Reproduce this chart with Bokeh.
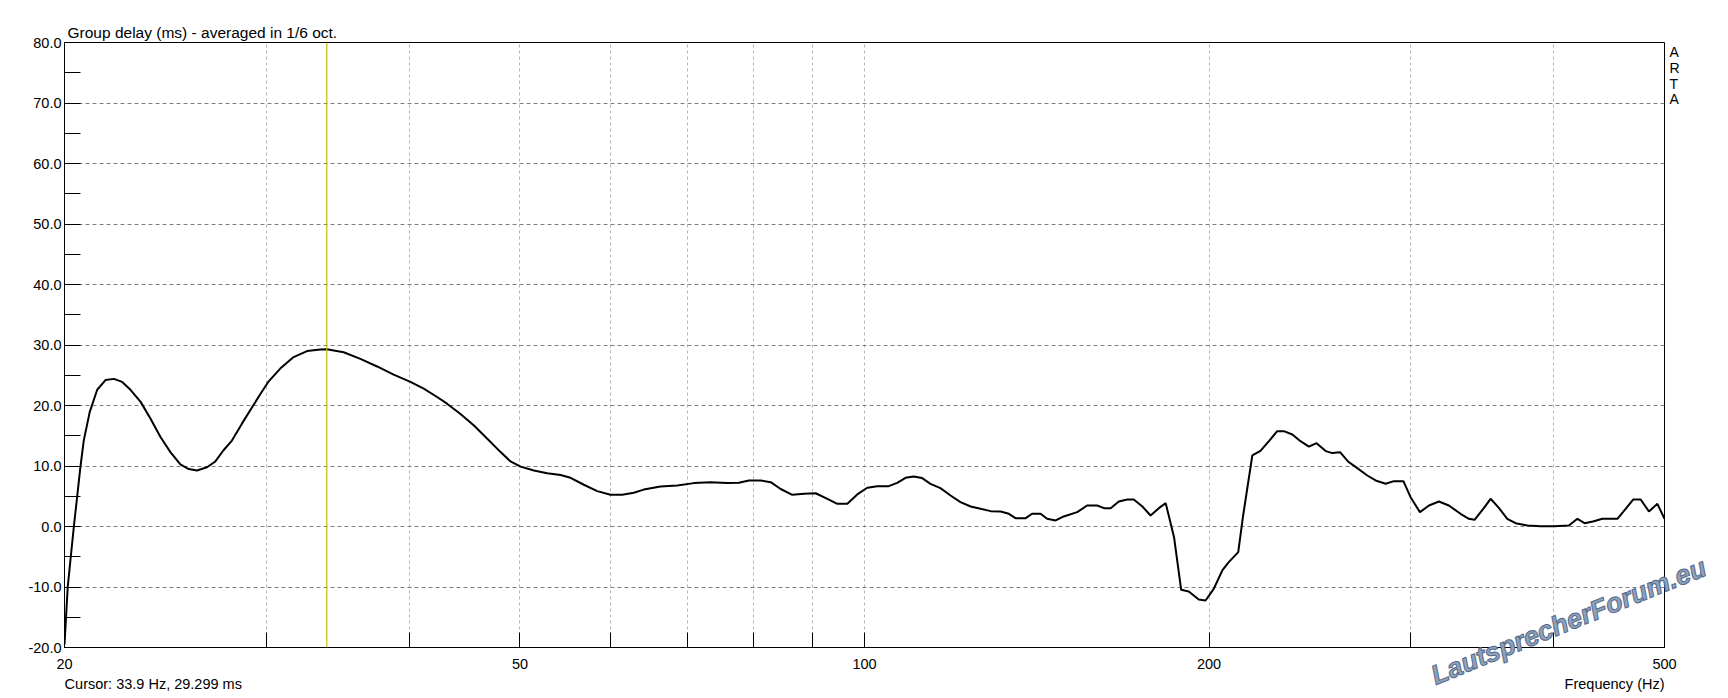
from bokeh.plotting import figure
from bokeh.models import (Range1d, FixedTicker, NumeralTickFormatter, Span,
                          ColumnDataSource, LinearAxis, LogAxis)
from bokeh.core.properties import value
from bokeh.embed import file_html
from bokeh.resources import INLINE

# ---- data ----
freq_hz = [20.0, 20.13, 20.38, 20.65, 20.79, 21.04, 21.36, 21.72, 22.09, 22.46,
           22.84, 23.31, 23.78, 24.26, 24.75, 25.25, 25.68, 26.11, 26.64, 27.09,
           27.54, 28.01, 28.58, 29.17, 29.66, 30.16, 30.87, 31.71, 32.58, 33.46,
           33.9, 35.07, 36.27, 37.51, 38.78, 40.11, 41.2, 42.32, 43.18, 44.36,
           45.58, 46.82, 48.09, 49.06, 50.06, 51.42, 52.82, 54.26, 55.36, 56.86,
           58.41, 59.99, 61.42, 62.87, 64.14, 66.34, 68.61, 70.94, 73.36, 75.88,
           77.67, 79.25, 81.15, 82.8, 84.48, 86.49, 88.53, 90.64, 92.8, 94.68,
           96.6, 98.56, 100.56,
           102.6, 105.0, 106.8, 108.6, 110.4, 112.3, 114.2, 116.5, 118.9, 121.3,
           123.8, 126.3, 128.9, 131.5, 133.7, 135.5, 138.3, 140.1, 142.5, 144.4,
           146.9, 149.3, 153.4, 156.5, 159.7, 161.9, 164.1, 166.8, 169.7, 171.9,
           174.9, 177.8, 180.8, 183.3, 186.4, 189.1, 192.0, 195.9, 198.6, 201.9,
           205.4, 208.1, 212.1, 214.2, 218.2, 221.8, 225.6, 229.4,
           232.5, 236.5, 240.4, 244.5, 248.3, 252.9, 256.3, 260.3, 264.5, 269.5,
           275.0, 279.6, 285.3, 290.1, 295.7, 300.0, 305.7, 311.3, 317.6, 324.0,
           331.7, 337.3, 341.2, 347.2, 352.4, 358.3, 364.4, 370.6, 379.4, 389.7,
           400.3, 412.5, 419.6, 425.8, 433.8, 441.2, 454.8, 462.4, 469.6, 476.6,
           484.6, 492.9, 500.0]

group_delay_ms = [-19.5, -10.0, 0.0, 9.8, 14.2, 18.9, 22.6, 24.2, 24.4, 23.9,
                  22.6, 20.6, 17.8, 14.8, 12.3, 10.25, 9.5, 9.26, 9.8, 10.75,
                  12.6, 14.2, 17.0, 19.7, 21.9, 24.0, 26.1, 28.0, 29.0, 29.26,
                  29.3, 28.8, 27.7, 26.45, 25.1, 23.9, 22.8, 21.4, 20.3, 18.6,
                  16.7, 14.5, 12.3, 10.75, 9.9, 9.26, 8.8, 8.5, 8.05, 6.9,
                  5.85, 5.24, 5.24, 5.57, 6.1, 6.6, 6.78, 7.17, 7.33, 7.17,
                  7.22, 7.6, 7.6, 7.33, 6.2, 5.24, 5.4, 5.5, 4.58, 3.75,
                  3.75, 5.3, 6.4,
                  6.67, 6.67, 7.22, 8.05, 8.27, 8.0, 7.05, 6.34, 5.13, 4.03,
                  3.31, 2.92, 2.54, 2.48, 2.1, 1.38, 1.38, 2.1, 2.1, 1.27,
                  1.0, 1.66, 2.37, 3.47, 3.47, 3.03, 3.03, 4.14, 4.47, 4.47,
                  3.31, 1.82, 3.03, 3.86, -1.76, -10.47, -10.74, -12.06, -12.23, -10.3,
                  -7.27, -5.89, -4.24, 1.82, 11.74, 12.5, 14.1, 15.76,
                  15.76, 15.2, 14.1, 13.2, 13.78, 12.46, 12.13, 12.29, 10.75, 9.65,
                  8.43, 7.61, 7.06, 7.5, 7.5, 4.85, 2.37, 3.47, 4.14, 3.47,
                  2.1, 1.27, 1.1, 2.92, 4.58, 3.09, 1.27, 0.55, 0.17, 0.06,
                  0.06, 0.17, 1.27, 0.55, 0.88, 1.27, 1.27, 2.92, 4.47, 4.47,
                  2.48, 3.75, 1.27]

x_ticks = [20, 30, 40, 50, 60, 70, 80, 90, 100, 200, 300, 400, 500]
x_tick_labels = ["20", "", "", "50", "", "", "", "", "100", "200", "", "", "500"]
y_ticks = [-20, -10, 0, 10, 20, 30, 40, 50, 60, 70, 80]
y_minor_ticks = [-15, -5, 5, 15, 25, 35, 45, 55, 65, 75]

cursor_freq = 33.9
title_text = "Group delay (ms) - averaged in 1/6 oct."
cursor_text = "Cursor: 33.9 Hz, 29.299 ms"
xlabel_text = "Frequency (Hz)"
brand_text = "A\nR\nT\nA"
watermark_text = "LautsprecherForum.eu"

FONT = "Liberation Sans"
FS = "14.5px"

p = figure(width=1728, height=698, x_axis_type="log",
           x_range=Range1d(20, 500), y_range=Range1d(-20, 80),
           output_backend="svg", toolbar_location=None,
           min_border_left=64, min_border_right=64,
           min_border_top=42, min_border_bottom=51)

p.background_fill_color = "white"
p.border_fill_color = "white"
p.outline_line_color = "black"
p.outline_line_width = 1

# title
p.title.text = title_text
p.title.align = "left"
p.title.offset = 3
p.title.standoff = 4
p.title.text_font = FONT
p.title.text_font_size = "15.5px"
p.title.text_font_style = "normal"
p.title.text_color = "black"

# axes
xa = p.xaxis[0]
xa.ticker = FixedTicker(ticks=x_ticks)
xa.major_label_overrides = {t: l for t, l in zip(x_ticks, x_tick_labels)}
xa.major_tick_in = 15
xa.major_tick_out = 0
xa.minor_tick_in = 0
xa.minor_tick_out = 0
xa.major_tick_line_color = "black"
xa.axis_line_color = "black"
xa.major_label_text_font = FONT
xa.major_label_text_font_size = FS
xa.major_label_text_color = "black"
xa.major_label_standoff = 11

ya = p.yaxis[0]
ya.ticker = FixedTicker(ticks=y_ticks, minor_ticks=y_minor_ticks)
ya.formatter = NumeralTickFormatter(format="0.0")
ya.major_tick_in = 16
ya.major_tick_out = 0
ya.minor_tick_in = 16
ya.minor_tick_out = 0
ya.major_tick_line_color = "black"
ya.minor_tick_line_color = "black"
ya.axis_line_color = "black"
ya.major_label_text_font = FONT
ya.major_label_text_font_size = FS
ya.major_label_text_color = "black"
ya.major_label_standoff = 3

# second bottom row: cursor readout (left) and axis title (right)
cursor_label_pos = 23.91   # centre of the left-aligned readout
xlabel_pos = 452.2         # centre of the right-aligned axis title
xb = LogAxis(ticker=FixedTicker(ticks=[cursor_label_pos, xlabel_pos]),
             major_label_overrides={cursor_label_pos: cursor_text, xlabel_pos: xlabel_text},
             axis_line_color=None, major_tick_line_color=None,
             minor_tick_line_color=None, major_tick_in=0, major_tick_out=0,
             minor_tick_in=0, minor_tick_out=0,
             major_label_standoff=4, major_label_text_font=FONT,
             major_label_text_font_size=FS, major_label_text_color="black")
p.add_layout(xb, "below")

# right side: stacked "ARTA"
brand_pos = 74.5
yr = LinearAxis(ticker=FixedTicker(ticks=[brand_pos]),
                major_label_overrides={brand_pos: brand_text},
                axis_line_color=None, major_tick_line_color=None,
                minor_tick_line_color=None, major_tick_in=0, major_tick_out=0,
                minor_tick_in=0, minor_tick_out=0,
                major_label_standoff=5, major_label_text_font=FONT,
                major_label_text_font_size="14px", major_label_text_color="black",
                major_label_text_line_height=0.98)
p.add_layout(yr, "right")

# grids
p.xgrid.ticker = FixedTicker(ticks=x_ticks[1:-1])
p.xgrid.grid_line_color = "#b4b4b4"
p.xgrid.grid_line_dash = "3 3"
p.xgrid.grid_line_width = 1
p.ygrid.ticker = FixedTicker(ticks=y_ticks[1:-1])
p.ygrid.grid_line_color = "#808080"
p.ygrid.grid_line_dash = "4 3"
p.ygrid.grid_line_width = 1

# cursor
p.add_layout(Span(location=cursor_freq, dimension="height",
                  line_color="#c2c200", line_width=1.2))

# curve
src = ColumnDataSource(dict(f=freq_hz, gd=group_delay_ms))
p.line("f", "gd", source=src, line_color="black", line_width=2)

# watermark (overlay level)
p.text(x=[313.4], y=[-24.8], text=[watermark_text], angle=0.385,
       text_font=value(FONT), text_font_size=value("27px"),
       text_font_style="bold italic", text_color="#8fa3bd",
       text_outline_color="#55698a", text_baseline="alphabetic",
       text_align="left", level="overlay")

open("out.html", "w").write(file_html(p, INLINE))
